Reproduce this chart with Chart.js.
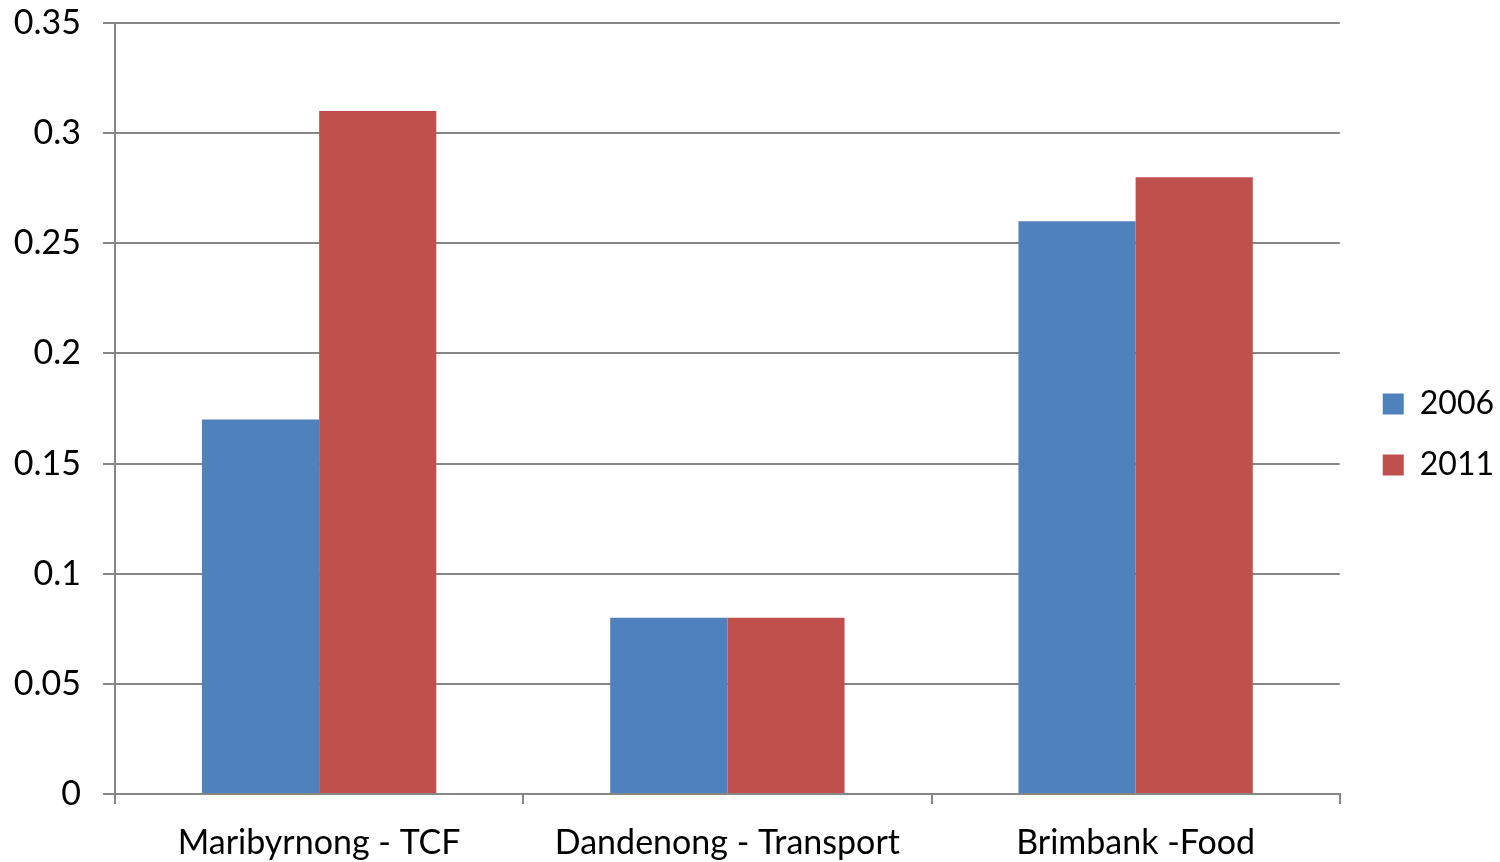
<!DOCTYPE html>
<html>
<head>
<meta charset="utf-8">
<script src="https://cdn.jsdelivr.net/npm/chart.js@4"></script>
<style>
html,body{margin:0;padding:0;background:#fff;}
#wrap{width:1500px;height:862px;}
</style>
</head>
<body>
<div id="wrap"><canvas id="c"></canvas></div>
<script>
const categories = ["Maribyrnong - TCF", "Dandenong - Transport", "Brimbank -Food"];
const values2006 = [0.17, 0.08, 0.26];
const values2011 = [0.31, 0.08, 0.28];
const seriesNames = ["2006", "2011"];
const yTicks = [0, 0.05, 0.1, 0.15, 0.2, 0.25, 0.3, 0.35];

const FONT = "Lato";
const gridColor = "#868686";

const legendShift = {
  id: "legendShift",
  afterLayout(chart) {
    const lg = chart.legend;
    if (!lg) return;
    const dx = (chart.chartArea.right + 43) - (lg.left + lg.options.labels.padding);
    lg.left += dx; lg.right += dx;
    const dy = -8;
    lg.top += dy; lg.bottom += dy;
  }
};

new Chart(document.getElementById("c"), {
  type: "bar",
  data: {
    labels: categories,
    datasets: [
      {label: seriesNames[0], data: values2006, backgroundColor: "#4F81BD"},
      {label: seriesNames[1], data: values2011, backgroundColor: "#C0504D"}
    ]
  },
  plugins: [legendShift],
  options: {
    responsive: true,
    maintainAspectRatio: false,
    animation: false,
    devicePixelRatio: 1,
    layout: {padding: {top: 23, left: 0, right: 10, bottom: 0}},
    datasets: {bar: {barPercentage: 1, categoryPercentage: 0.574}},
    plugins: {
      tooltip: {enabled: false},
      legend: {
        position: "right",
        labels: {
          font: {family: FONT, size: 32},
          color: "#000",
          boxWidth: 21,
          boxHeight: 21,
          padding: 29
        }
      }
    },
    scales: {
      x: {
        grid: {offset: true, drawOnChartArea: false, drawTicks: true, tickLength: 10, color: gridColor, lineWidth: 2},
        border: {color: gridColor, width: 2},
        ticks: {font: {family: FONT, size: 34}, color: "#000", padding: 19, maxRotation: 0},
        afterFit: (s) => { s.height = 68; s.paddingLeft = 0; s.paddingRight = 0; }
      },
      y: {
        min: 0, max: 0.35,
        afterBuildTicks: (s) => { s.ticks = yTicks.map(v => ({value: v})); },
        grid: {color: gridColor, lineWidth: 2, tickLength: 12},
        border: {color: gridColor, width: 2},
        ticks: {font: {family: FONT, size: 34}, color: "#000", padding: 22,
          callback: (v) => String(v)},
        afterFit: (s) => { s.width = 115; s.paddingTop = 0; s.paddingBottom = 0; }
      }
    }
  }
});
</script>
</body>
</html>
